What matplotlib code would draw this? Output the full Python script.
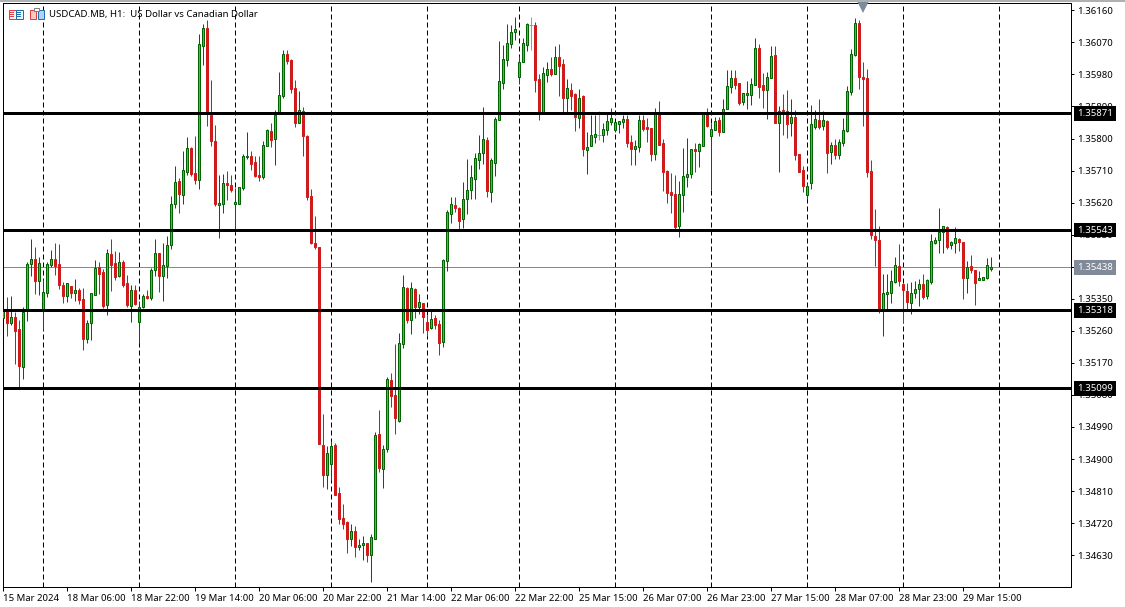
import numpy as np
import matplotlib
matplotlib.use("Agg")
import matplotlib.pyplot as plt
from matplotlib.patches import Rectangle
from matplotlib.transforms import IdentityTransform

plt.rcParams["font.family"] = ["Noto Sans", "DejaVu Sans"]

# ===================== data (points, 1e-5 of a price) =====================
opens_pts = [
    135296,135321,135282,135298,135264,135158,135318,135447,135461,135399,
    135321,135365,135444,135461,135447,135388,135357,135385,135365,135374,
    135349,135236,135281,135360,135439,135424,135332,135475,135450,135413,
    135453,135394,135329,135374,135284,135326,135357,135351,135430,135478,
    135413,135441,135500,135615,135680,135641,135705,135773,135702,135683,
    136059,136109,135865,135792,135613,135615,135674,135669,135615,135615,
    135660,135747,135750,135733,135697,135691,135778,135820,135798,135871,
    135919,136036,136020,135941,135843,135876,135806,135638,135506,135495,
    134939,134855,134885,134939,134804,134734,134723,134675,134697,134652,
    134658,134664,134630,134675,134970,134871,134928,135121,135079,135006,
    135222,135380,135290,135377,135326,135337,135284,135267,135295,135279,
    135228,135455,135587,135613,135604,135573,135629,135655,135686,135739,
    135759,135795,135649,135730,135851,135955,136020,136065,136098,135972,
    136014,136062,136118,136118,135966,135871,135977,135994,135980,136028,
    136008,135913,135935,135924,135857,135919,135767,135778,135803,135810,
    135809,135823,135846,135823,135840,135846,135854,135789,135770,135775,
    135851,135832,135829,135756,135871,135787,135708,135649,135643,135554,
    135641,135691,135700,135770,135764,135778,135871,135806,135823,135851,
    135817,135882,135944,135969,135955,135902,135921,135921,135949,136053,
    135949,135935,135969,136034,135843,135879,135876,135843,135860,135756,
    135711,135641,135674,135832,135851,135834,135848,135761,135781,135753,
    135787,135820,135930,136034,136123,135972,135969,135708,135526,135514,
    135321,135363,135365,135396,135441,135391,135371,135337,135365,135377,
    135391,135357,135396,135506,135514,135537,135551,135500,135506,135517,
    135509,135408,135441,135430,135402,135402,135408,135433,
]
closes_pts = [
    135318,135282,135298,135259,135161,135312,135447,135461,135399,135450,
    135368,135447,135461,135441,135388,135357,135394,135365,135374,135346,
    135236,135281,135365,135436,135419,135329,135478,135444,135410,135453,
    135388,135332,135374,135335,135326,135357,135351,135430,135478,135413,
    135444,135500,135615,135677,135643,135711,135773,135700,135683,136065,
    136109,135871,135792,135615,135618,135674,135669,135655,135621,135663,
    135750,135750,135728,135694,135691,135781,135823,135795,135865,135921,
    136036,136017,135938,135843,135879,135806,135635,135506,135495,134942,
    134855,134916,134936,134798,134731,134717,134675,134697,134652,134658,
    134664,134630,134680,134967,134874,134928,135124,135076,135014,135225,
    135382,135290,135380,135326,135340,135298,135262,135293,135276,135225,
    135458,135593,135615,135604,135568,135629,135655,135691,135744,135759,
    135798,135652,135739,135854,135961,136022,136067,136098,136107,136014,
    136067,136121,136118,135963,135871,135983,135994,135980,136028,136003,
    135913,135941,135919,135860,135913,135770,135775,135809,135812,135810,
    135826,135848,135857,135846,135848,135854,135787,135770,135778,135851,
    135826,135826,135756,135871,135781,135705,135646,135641,135551,135643,
    135694,135700,135770,135764,135784,135871,135834,135826,135848,135817,
    135882,135947,135969,135949,135899,135927,135927,135952,136053,135944,
    135935,135972,136031,135843,135876,135876,135840,135860,135753,135705,
    135666,135666,135840,135854,135832,135851,135759,135781,135753,135789,
    135823,135933,136036,136123,135972,135966,135705,135528,135514,135318,
    135365,135368,135399,135444,135399,135374,135340,135365,135377,135391,
    135354,135402,135511,135514,135537,135554,135495,135509,135520,135509,
    135408,135438,135430,135394,135408,135410,135444,135438,
]
highs_pts = [
    135318,135355,135357,135312,135290,135326,135453,135517,135495,135467,
    135405,135453,135486,135506,135503,135396,135394,135385,135405,135380,
    135380,135290,135365,135458,135453,135433,135489,135517,135483,135481,
    135458,135416,135388,135388,135343,135363,135374,135436,135517,135478,
    135506,135526,135638,135722,135688,135764,135803,135775,135806,136093,
    136121,136132,135963,135837,135697,135700,135708,135697,135660,135663,
    135756,135817,135764,135750,135750,135792,135826,135843,135879,135986,
    136048,136048,136022,135963,135933,135888,135809,135657,135582,135495,
    135026,134936,134950,134944,134821,134773,134725,134717,134711,134675,
    134683,134664,134689,134975,135037,134939,135130,135141,135222,135253,
    135416,135382,135396,135380,135363,135337,135304,135315,135304,135290,
    135461,135599,135635,135635,135607,135677,135742,135725,135759,135809,
    135888,135803,135744,135860,136073,136062,136121,136118,136140,136031,
    136081,136123,136140,136126,135980,136000,136014,136028,136059,136065,
    136022,135966,135955,135927,135938,135921,135817,135865,135865,135876,
    135843,135868,135885,135846,135848,135865,135865,135809,135795,135865,
    135865,135857,135829,135885,135905,135798,135711,135702,135697,135680,
    135773,135801,135770,135787,135787,135871,135885,135843,135860,135860,
    135910,135992,135992,135992,135955,135927,135961,135969,136081,136065,
    135983,135986,136059,136059,135890,135924,135935,135910,135879,135756,
    135722,135674,135893,135879,135910,135876,135851,135789,135798,135798,
    135857,135947,136051,136138,136132,136014,135994,135739,135601,135554,
    135419,135419,135430,135467,135503,135394,135394,135396,135399,135405,
    135419,135405,135531,135523,135604,135554,135554,135512,135551,135520,
    135509,135455,135472,135430,135427,135410,135464,135467,
]
lows_pts = [
    135296,135245,135276,135166,135102,135124,135287,135413,135363,135360,
    135262,135354,135439,135416,135377,135337,135340,135351,135343,135335,
    135206,135225,135234,135360,135363,135323,135304,135371,135402,135410,
    135382,135326,135284,135332,135225,135323,135349,135346,135413,135368,
    135343,135408,135489,135604,135590,135615,135697,135694,135671,135657,
    136006,135834,135778,135610,135520,135590,135627,135649,135537,135615,
    135655,135742,135711,135691,135680,135686,135778,135775,135725,135871,
    135913,136008,135927,135832,135843,135750,135627,135503,135489,134942,
    134821,134815,134841,134798,134717,134703,134636,134655,134624,134644,
    134616,134610,134554,134675,134863,134818,134919,135045,134970,135003,
    135211,135281,135250,135295,135307,135253,135245,135264,135264,135191,
    135214,135427,135562,135593,135545,135548,135587,135629,135629,135714,
    135728,135635,135621,135694,135851,135938,136003,136053,136076,135952,
    136014,136045,136048,135930,135851,135871,135958,135975,135980,135919,
    135871,135871,135879,135820,135829,135750,135700,135778,135787,135795,
    135789,135809,135837,135817,135815,135829,135775,135725,135725,135761,
    135820,135789,135736,135739,135781,135652,135618,135590,135542,135523,
    135593,135663,135688,135705,135719,135778,135832,135655,135823,135806,
    135817,135882,135927,135938,135893,135893,135882,135893,135949,135913,
    135885,135854,135969,135843,135705,135809,135801,135806,135739,135705,
    135649,135629,135657,135826,135826,135823,135702,135728,135742,135742,
    135778,135817,135921,136031,135938,135834,135691,135517,135441,135309,
    135245,135321,135337,135394,135385,135281,135321,135307,135351,135329,
    135349,135349,135391,135503,135478,135478,135489,135489,135478,135483,
    135349,135365,135422,135332,135402,135402,135405,135427,
]

level_prices = [1.35871, 1.35543, 1.35318, 1.35099]
last_price = 1.35438
ytick_prices = [1.36160, 1.36070, 1.35980, 1.35890, 1.35800, 1.35710, 1.35620, 1.35530, 1.35440,
                1.35350, 1.35260, 1.35170, 1.35080, 1.34990, 1.34900, 1.34810, 1.34720, 1.34630]
xtick_labels = ["15 Mar 2024", "18 Mar 06:00", "18 Mar 22:00", "19 Mar 14:00", "20 Mar 06:00", "20 Mar 22:00",
                "21 Mar 14:00", "22 Mar 06:00", "22 Mar 22:00", "25 Mar 15:00", "26 Mar 07:00", "26 Mar 23:00",
                "27 Mar 15:00", "28 Mar 07:00", "28 Mar 23:00", "29 Mar 15:00"]
day_bars = [10, 34, 58, 82, 106, 129, 153, 177, 201, 225, 249]

opens = np.array(opens_pts) / 1e5
closes = np.array(closes_pts) / 1e5
highs = np.array(highs_pts) / 1e5
lows = np.array(lows_pts) / 1e5
bars = np.arange(len(opens))

UP_FILL = "#00f000"
UP_EDGE = "#006400"
DOWN_FILL = "#cf1b1b"
DOWN_WICK = "#a82828"
DOJI = "#00ff20"
GREY = "#808a98"
FONT_SIZE = 6.9

W, H = 1125, 607
fig = plt.figure(figsize=(W / 100, H / 100), dpi=100, facecolor="white")
ax = fig.add_axes([3.2 / W, (H - 587.2) / H, 1068 / W, 584 / H])
ax.set_xlim(0, 267)
ax.set_ylim(1.34540, 1.36180)

# ===================== candles =====================
up = closes > opens
down = closes < opens
flat = closes == opens

ax.vlines(bars[up], lows[up], highs[up], color=UP_EDGE, lw=0.72, zorder=3)
ax.vlines(bars[down], lows[down], highs[down], color=DOWN_WICK, lw=0.72, zorder=3)
ax.vlines(bars[flat], lows[flat], highs[flat], color=DOJI, lw=0.72, zorder=3)
ax.bar(bars[up], (closes - opens)[up], bottom=opens[up], width=0.5, color=UP_FILL,
       edgecolor=UP_EDGE, linewidth=0.72, zorder=4)
ax.bar(bars[down], (closes - opens)[down], bottom=opens[down], width=0.5, color=DOWN_FILL,
       edgecolor=DOWN_FILL, linewidth=0.72, zorder=4)
ax.hlines(closes[flat], bars[flat] - 0.5, bars[flat] + 0.5, color=DOJI, lw=0.72, zorder=4)

# ===================== separators / levels =====================
for b in day_bars:
    ax.axvline(b, color="black", lw=0.72, ls=(0, (5, 3)), zorder=1)
ax.axhline(last_price, color=GREY, lw=0.72, zorder=2)
for p in level_prices:
    ax.axhline(p, color="black", lw=2.16, zorder=5)

# ===================== axes =====================
ax.yaxis.tick_right()
ax.set_yticks(ytick_prices)
ax.set_yticklabels([f"{p:.5f}" for p in ytick_prices])
ax.set_xticks(np.arange(len(xtick_labels)) * 16)
ax.set_xticklabels(xtick_labels, ha="left")
ax.tick_params(axis="y", length=2.2, width=0.72, labelsize=FONT_SIZE, pad=2.2, direction="out")
ax.tick_params(axis="x", length=3.2, width=0.72, labelsize=FONT_SIZE, pad=1.5, direction="out")
for s in ax.spines.values():
    s.set_linewidth(0.72)

tr = ax.get_yaxis_transform()
box = dict(boxstyle="square,pad=0.3", ec="none")
for p in level_prices:
    ax.text(1.0054, p, f"{p:.5f}", transform=tr, color="white", fontsize=FONT_SIZE, va="center", ha="left",
            bbox=dict(box, fc="black"), clip_on=False, zorder=8)
ax.text(1.0054, last_price, f"{last_price:.5f}", transform=tr, color="white", fontsize=FONT_SIZE, va="center", ha="left",
        bbox=dict(box, fc=GREY), clip_on=False, zorder=8)

# marker for the highest bar
ax.plot([215], [1.36170], marker="v", ms=8, color="#7d8c9c", clip_on=False, zorder=7, mew=0)

# ===================== header, icons =====================
fig.text(49 / W, (H - 14.5) / H, "USDCAD.MB, H1:  US Dollar vs Canadian Dollar", fontsize=FONT_SIZE, va="center", ha="left",
         color="black")


def px_rect(x, y, w, h, fc="none", ec="none"):
    fig.add_artist(Rectangle((x, H - y - h), w, h, transform=IdentityTransform(), facecolor=fc, edgecolor=ec,
                             linewidth=0.72))


px_rect(0, 0, W, 1.5, fc="#b0b0b0")
px_rect(8.5, 9.5, 7, 9, fc="#fff0f0", ec="#e04040")
px_rect(15.5, 9.5, 7, 9, fc="#f0f6ff", ec="#2070b0")
for yy in (12, 14, 16):
    px_rect(10, yy, 4, 0.6, fc="#e04040")
    px_rect(17, yy, 4, 0.6, fc="#2070b0")
px_rect(29.5, 9.5, 6, 9, fc="#ffc8c0", ec="#e04040")
px_rect(37.5, 9.5, 6, 9, fc="#b0d4f0", ec="#2070b0")
px_rect(34, 8, 5, 3, fc="white", ec="#808080")

fig.savefig("out.png", dpi=100, facecolor="white")
